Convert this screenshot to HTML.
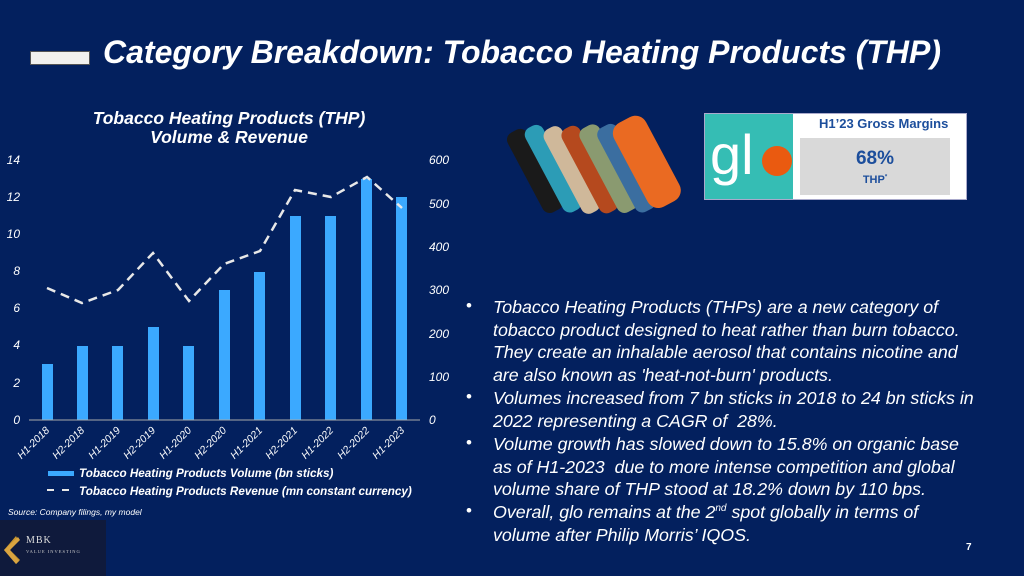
<!DOCTYPE html>
<html><head><meta charset="utf-8"><style>
body{margin:0;width:1024px;height:576px;overflow:hidden;background:#03205e;font-family:"Liberation Sans",sans-serif;color:#fff;position:relative}
.a{position:absolute;white-space:nowrap}
.b{position:absolute;left:493px;font-size:17.8px;font-style:italic;white-space:nowrap;line-height:20px}
.d{position:absolute;left:466px;font-size:17px}
.s{font-size:10px;position:relative;top:-7px}
</style></head><body>
<div class="a" style="left:30px;top:51px;width:58px;height:12px;background:#f2f1ee;border:1px solid #555"></div>
<div class="a" style="left:103px;top:34px;font-size:32px;font-weight:bold;font-style:italic">Category Breakdown: Tobacco Heating Products (THP)</div>

<svg class="a" style="left:0;top:100px" width="460" height="420" viewBox="0 100 460 420">
<g font-family="Liberation Sans" font-style="italic" fill="#fff">
<text x="229" y="124" font-size="17.5" font-weight="bold" text-anchor="middle">Tobacco Heating Products (THP)</text>
<text x="229" y="143" font-size="17.5" font-weight="bold" text-anchor="middle">Volume &amp; Revenue</text>
<g font-size="12" text-anchor="end">
<text x="20" y="424">0</text><text x="20" y="387">2</text><text x="20" y="349">4</text><text x="20" y="312">6</text><text x="20" y="275">8</text><text x="20" y="238">10</text><text x="20" y="201">12</text><text x="20" y="164">14</text>
</g>
<g font-size="12">
<text x="429" y="424">0</text><text x="429" y="381">100</text><text x="429" y="338">200</text><text x="429" y="294">300</text><text x="429" y="251">400</text><text x="429" y="208">500</text><text x="429" y="164">600</text>
</g>
</g>
<g fill="#3ba9ff">
<rect x="42" y="364" width="11" height="56"/><rect x="77" y="346" width="11" height="74"/><rect x="112" y="346" width="11" height="74"/><rect x="148" y="327" width="11" height="93"/><rect x="183" y="346" width="11" height="74"/><rect x="219" y="290" width="11" height="130"/><rect x="254" y="272" width="11" height="148"/><rect x="290" y="216" width="11" height="204"/><rect x="325" y="216" width="11" height="204"/><rect x="361" y="179" width="11" height="241"/><rect x="396" y="197" width="11" height="223"/>
</g>
<line x1="29" y1="420" x2="420" y2="420" stroke="#aaa" stroke-width="1"/>
<polyline fill="none" stroke="#e8e8e8" stroke-width="2.5" stroke-dasharray="9,6" points="47,288 82,303 118,290 153,253 189,301 224,264 260,251 295,190 331,197 367,177 402,208"/>
<g font-family="Liberation Sans" font-style="italic" font-size="10.5" fill="#fff" text-anchor="end">
<text transform="translate(50,431) rotate(-45)">H1-2018</text><text transform="translate(85,431) rotate(-45)">H2-2018</text><text transform="translate(121,431) rotate(-45)">H1-2019</text><text transform="translate(156,431) rotate(-45)">H2-2019</text><text transform="translate(192,431) rotate(-45)">H1-2020</text><text transform="translate(227,431) rotate(-45)">H2-2020</text><text transform="translate(263,431) rotate(-45)">H1-2021</text><text transform="translate(298,431) rotate(-45)">H2-2021</text><text transform="translate(334,431) rotate(-45)">H1-2022</text><text transform="translate(370,431) rotate(-45)">H2-2022</text><text transform="translate(405,431) rotate(-45)">H1-2023</text>
</g>
<rect x="48" y="471" width="26" height="5" fill="#3ba9ff"/>
<line x1="47" y1="490" x2="74" y2="490" stroke="#e8e8e8" stroke-width="2" stroke-dasharray="7,8"/>
<g font-family="Liberation Sans" font-style="italic" font-weight="bold" font-size="11.7" fill="#fff">
<text x="79" y="477">Tobacco Heating Products Volume (bn sticks)</text>
<text x="79" y="495">Tobacco Heating Products Revenue (mn constant currency)</text>
</g>
<text x="8" y="515" font-family="Liberation Sans" font-style="italic" font-size="8.5" fill="#fff">Source: Company filings, my model</text>
</svg>

<div class="a" style="left:0;top:520px;width:106px;height:56px;background:#0f1a3c"></div>
<svg class="a" style="left:0;top:520px" width="106" height="56"><polygon points="4,30 16,16 18,20 10,30 20,40 16,44" fill="#c8952e"/><polygon points="10,30 20,20 18,17 4,30 16,44 19,41" fill="#d9a440"/></svg>
<div class="a" style="left:26px;top:535px;font-size:10px;color:#ddd;font-family:'Liberation Serif',serif;letter-spacing:1px">MBK</div>
<div class="a" style="left:26px;top:549px;font-size:4.5px;color:#ccc;font-family:'Liberation Serif',serif;letter-spacing:1px">VALUE INVESTING</div>

<svg class="a" style="left:500px;top:90px" width="200" height="170">
<g transform="rotate(-28 90 80)">
<rect x="30" y="10" width="22" height="90" rx="8" fill="#1a1a1a"/>
<rect x="48" y="14" width="20" height="95" rx="8" fill="#2c9cb6"/>
<rect x="64" y="24" width="20" height="95" rx="8" fill="#cfb89a"/>
<rect x="80" y="32" width="20" height="95" rx="8" fill="#b5491e"/>
<rect x="96" y="40" width="22" height="95" rx="8" fill="#8a9a70"/>
<rect x="112" y="48" width="22" height="95" rx="8" fill="#3b6ea0"/>
<rect x="126" y="52" width="36" height="95" rx="12" fill="#ea6a22"/>
</g></svg>

<div class="a" style="left:704px;top:113px;width:261px;height:85px;background:#fff;border:1px solid #aac"></div>
<div class="a" style="left:705px;top:114px;width:88px;height:85px;background:#35bdb4"></div>
<div class="a" style="left:710px;top:122px;font-size:56px;color:#fff">gl</div>
<div class="a" style="left:762px;top:146px;width:30px;height:30px;border-radius:50%;background:#ea5a10"></div>
<div class="a" style="left:819px;top:116px;font-size:13px;font-weight:bold;color:#1c4e9c">H1’23 Gross Margins</div>
<div class="a" style="left:800px;top:138px;width:150px;height:57px;background:#d9d9d9"></div>
<div class="a" style="left:800px;top:148px;width:150px;text-align:center;font-size:19px;font-weight:bold;color:#1c4e9c">68%</div>
<div class="a" style="left:800px;top:174px;width:150px;text-align:center;font-size:11px;font-weight:bold;color:#1c4e9c">THP<sup style="font-size:6px">*</sup></div>

<div class="d" style="top:296px">•</div>
<div class="b" style="top:297px">Tobacco Heating Products (THPs) are a new category of</div>
<div class="b" style="top:320px">tobacco product designed to heat rather than burn tobacco.</div>
<div class="b" style="top:342px">They create an inhalable aerosol that contains nicotine and</div>
<div class="b" style="top:365px">are also known as 'heat-not-burn' products.</div>
<div class="d" style="top:387px">•</div>
<div class="b" style="top:388px">Volumes increased from 7 bn sticks in 2018 to 24 bn sticks in</div>
<div class="b" style="top:411px">2022 representing a CAGR of&nbsp; 28%.</div>
<div class="d" style="top:433px">•</div>
<div class="b" style="top:434px">Volume growth has slowed down to 15.8% on organic base</div>
<div class="b" style="top:457px">as of H1-2023&nbsp; due to more intense competition and global</div>
<div class="b" style="top:479px">volume share of THP stood at 18.2% down by 110 bps.</div>
<div class="d" style="top:501px">•</div>
<div class="b" style="top:502px">Overall, glo remains at the 2<span class="s">nd</span> spot globally in terms of</div>
<div class="b" style="top:525px">volume after Philip Morris’ IQOS.</div>
<div class="a" style="left:966px;top:542px;font-size:10px;font-weight:bold">7</div>
</body></html>
